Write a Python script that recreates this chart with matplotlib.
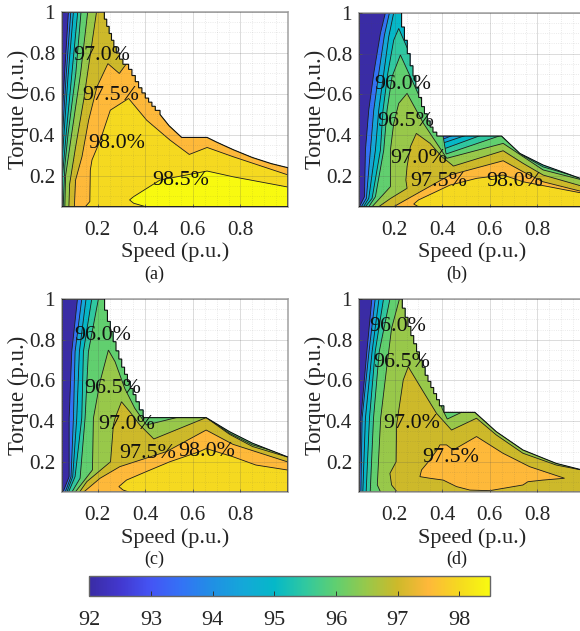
"""Efficiency maps over speed and torque for four cases, shared colour bar."""
import numpy as np
import matplotlib

matplotlib.use("Agg")
import matplotlib.pyplot as plt
from matplotlib.cm import ScalarMappable
from matplotlib.colors import LinearSegmentedColormap, Normalize
from matplotlib.patches import Polygon
from matplotlib.ticker import MultipleLocator

plt.rcParams["font.family"] = ["Liberation Serif", "DejaVu Serif"]

# Colour bar stops, efficiency in percent.
cbar_values = [92, 92.5, 93, 93.5, 94, 94.5, 95, 95.5, 96, 96.5, 97, 97.5, 98, 98.5]
cbar_colors = ["#3a2ca5", "#4238cf", "#4455f5", "#3373f5", "#2090e4", "#14a8d8", "#05b8c8",
               "#30c8a0", "#60cf70", "#98c84a", "#cdb92a", "#feb83a", "#f5d920", "#f8fa10"]
cbar_ticks = [92, 93, 94, 95, 96, 97, 98]

# Torque limit: a jagged stretch (speed, torque) and then a smooth stretch.
a_stairs = [(.218, 1), (.228, .965), (.238, .93), (.248, .895), (.258, .862), (.268, .83),
            (.278, .80), (.292, .77), (.306, .745), (.33, .72), (.344, .69), (.358, .66),
            (.372, .63), (.386, .605), (.40, .58), (.414, .56), (.428, .54), (.442, .52)]
a_edge = [(.462, .50), (.50, .445), (.553, .388), (.66, .388), (.70, .365), (.77, .328),
          (.85, .29), (.93, .26), (1.0, .24)]
b_stairs = [(.217, 1), (.229, .93), (.241, .865), (.253, .80), (.265, .74), (.277, .69),
            (.289, .635), (.301, .585), (.313, .54), (.325, .505), (.337, .47), (.349, .44),
            (.361, .415)]
b_edge = [(.377, .396), (.649, .396), (.726, .311), (.824, .254), (.977, .19), (1.0, .183)]
c_stairs = [(.217, 1), (.229, .945), (.241, .89), (.253, .84), (.265, .79), (.277, .745),
            (.289, .705), (.301, .665), (.313, .63), (.325, .595), (.337, .56), (.349, .53),
            (.361, .495), (.375, .455)]
c_edge = [(.391, .417), (.656, .417), (.754, .348), (.851, .291), (.996, .225), (1.0, .224)]
d_stairs = [(.22, 1), (.232, .955), (.244, .91), (.256, .865), (.268, .82), (.28, .78),
            (.292, .74), (.304, .70), (.316, .665), (.328, .625), (.34, .595), (.352, .565),
            (.364, .535), (.376, .505), (.388, .475)]
d_edge = [(.407, .443), (.537, .443), (.627, .348), (.739, .258), (.879, .192), (.977, .163),
          (1.0, .158)]

# Iso-efficiency lines: (level, [(speed, torque), ...]).
a_lines = [
    (93.5, [(.052, .52), (.062, .72), (.077, 1)]),
    (94.5, [(.052, .40), (.068, .70), (.087, 1)]),
    (95.0, [(.052, .30), (.075, .68), (.098, 1)]),
    (95.5, [(.052, .20), (.067, .40), (.09, .68), (.116, 1)]),
    (96.0, [(.055, .05), (.062, .25), (.075, .40), (.108, .70), (.13, 1)]),
    (96.5, [(.062, .05), (.065, .2), (.09, .40), (.128, .7), (.158, 1)]),
    (97.0, [(.079, .05), (.082, .16), (.107, .34), (.141, .57), (.195, 1)]),
    (97.5, [(.102, .05), (.107, .18), (.134, .294), (.162, .472), (.197, .635), (.243, .748),
            (.291, .70), (.316, .74), (.35, .80)]),
    (98.0, [(.148, .05), (.167, .075), (.169, .229), (.176, .278), (.211, .375), (.253, .521),
            (.33, .578), (.406, .472), (.504, .375), (.585, .305), (.66, .339), (.769, .294),
            (1.0, .205), (1.1, .18)]),
    (98.5, [(.334, .083), (.351, .099), (.462, .18), (.574, .205), (.66, .224), (.769, .196),
            (1.05, .135), (1.05, .05), (.402, .05), (.351, .067), (.334, .083)]),
]
b_lines = [
    (93.5, [(.052, .05), (.073, .099), (.077, .327), (.091, .523), (.112, .703), (.14, .899),
            (.161, 1)]),
    (94.5, [(.06, .05), (.081, .091), (.098, .327), (.112, .523), (.133, .703), (.157, .891),
            (.178, 1), (.25, 1), (.375, .44), (.387, .373), (.447, .401), (1.1, .401)]),
    (95.0, [(.069, .05), (.091, .091), (.119, .327), (.133, .523), (.154, .703), (.175, .882),
            (.196, 1), (.25, 1), (.38, .44), (.391, .357), (.503, .401), (1.1, .401)]),
    (95.5, [(.077, .05), (.105, .091), (.14, .327), (.151, .523), (.171, .703), (.196, .866),
            (.217, .923), (.30, .70), (.395, .42), (.402, .331), (.566, .401), (1.1, .401)]),
    (96.0, [(.091, .05), (.119, .099), (.154, .327), (.168, .523), (.189, .687), (.224, .793),
            (.30, .60), (.40, .42), (.416, .308), (.649, .40), (.74, .30), (.824, .245),
            (1.019, .178)]),
    (96.5, [(.105, .05), (.182, .148), (.182, .327), (.196, .458), (.217, .556), (.252, .605),
            (.321, .458), (.377, .36), (.419, .287), (.656, .36), (.74, .295), (.824, .23),
            (1.019, .172)]),
    (97.0, [(.133, .05), (.182, .09), (.252, .14), (.247, .181), (.252, .246), (.266, .344),
            (.291, .409), (.349, .36), (.398, .295), (.447, .249), (.656, .324), (.74, .262),
            (.824, .205), (1.019, .14)]),
    (97.5, [(.196, .05), (.321, .132), (.433, .205), (.656, .275), (.74, .221), (.824, .172),
            (1.019, .115)]),
    (98.0, [(.28, .063), (.30, .083), (.433, .156), (.545, .189), (.656, .205), (.74, .172),
            (.977, .119), (1.05, .115), (1.05, .05), (.30, .05), (.28, .063)]),
]
c_lines = [
    (93.5, [(.054, .05), (.08, .127), (.08, .414), (.091, .741), (.115, 1)]),
    (94.5, [(.063, .05), (.088, .127), (.098, .414), (.105, .741), (.133, 1)]),
    (95.0, [(.07, .05), (.095, .127), (.112, .414), (.123, .741), (.151, 1)]),
    (95.5, [(.077, .05), (.105, .127), (.133, .414), (.14, .741), (.175, 1)]),
    (96.0, [(.091, .05), (.126, .119), (.147, .414), (.161, .741), (.203, 1)]),
    (96.5, [(.105, .05), (.178, .16), (.182, .414), (.21, .594), (.245, .749), (.273, .692),
            (.314, .56), (.356, .463), (.405, .381), (.531, .417), (.656, .42), (.754, .34),
            (.851, .283), (1.05, .215)]),
    (97.0, [(.123, .05), (.154, .102), (.254, .2), (.266, .381), (.273, .414), (.30, .495),
            (.335, .446), (.377, .381), (.436, .312), (.656, .417), (.754, .335), (.851, .275),
            (1.05, .205)]),
    (97.5, [(.14, .05), (.21, .119), (.293, .176), (.489, .25), (.656, .356), (.768, .286),
            (1.05, .18)]),
    (98.0, [(.289, .078), (.321, .11), (.405, .152), (.503, .2), (.628, .25), (.656, .265),
            (.768, .225), (.865, .184), (1.05, .15), (1.05, .05), (.335, .05), (.307, .061),
            (.289, .078)]),
]
d_lines = [
    (93.5, [(.052, .102), (.058, .414), (.083, .741), (.104, 1)]),
    (94.5, [(.058, .05), (.063, .414), (.092, .741), (.118, 1)]),
    (95.0, [(.066, .05), (.077, .414), (.105, .741), (.134, 1)]),
    (95.5, [(.08, .05), (.094, .414), (.118, .741), (.153, 1)]),
    (96.0, [(.097, .05), (.111, .414), (.135, .741), (.18, 1)]),
    (96.5, [(.141, .05), (.127, .086), (.141, .414), (.166, .659), (.187, .856), (.22, 1),
            (.27, 1), (.40, .46), (.421, .41), (.481, .443), (1.1, .443)]),
    (97.0, [(.211, .05), (.187, .086), (.18, .143), (.206, .2), (.208, .381), (.236, .602),
            (.257, .667), (.32, .545), (.376, .438), (.439, .356), (.544, .414), (.627, .332),
            (.739, .242), (.879, .184), (1.018, .152)]),
    (97.5, [(.39, .283), (.418, .283), (.446, .258), (.544, .324), (.655, .242), (.767, .176),
            (.914, .119), (.823, .11), (.76, .102), (.739, .086), (.599, .058), (.516, .061),
            (.46, .078), (.404, .11), (.348, .119), (.306, .127), (.313, .16), (.348, .209),
            (.383, .266), (.39, .283)]),
]

# In-plot labels: (text, speed, torque).
a_labels = [("97.0%", .218, .789), ("97.5%", .256, .594), ("98.0%", .281, .359), ("98.5%", .548, .18)]
b_labels = [("96.0%", .233, .646), ("96.5%", .247, .466), ("97.0%", .303, .287), ("97.5%", .387, .172),
            ("98.0%", .705, .172)]
c_labels = [("96.0%", .221, .823), ("96.5%", .261, .558), ("97.0%", .323, .381), ("97.5%", .412, .242),
            ("98.0%", .659, .25)]
d_labels = [("96.0%", .213, .864), ("96.5%", .229, .689), ("97.0%", .271, .389), ("97.5%", .436, .222)]

W, H = 580, 631
cmap = LinearSegmentedColormap.from_list(
    "eff", [((v - 92) / 6.5, c) for v, c in zip(cbar_values, cbar_colors)], N=512)
norm = Normalize(92, 98.5)


def limit_outline(stairs, edge):
    # horizontal run at each stair's torque, then a drop to the next one
    pts = [(.05, .05), (.05, 1)]
    next_speed = [p[0] for p in stairs[1:]] + [edge[0][0]]
    for (s, t), s2 in zip(stairs, next_speed):
        pts += [(s, t), (s2, t)]
    pts += edge + [(edge[-1][0], .05)]
    return pts


def draw_panel(rect, stairs, edge, lines, labels, name, name_x):
    left, top, right, bottom = rect
    ax = fig.add_axes([left / W, 1 - bottom / H, (right - left) / W, (bottom - top) / H])
    ax.set_xlim(.05, 1)
    ax.set_ylim(.05, 1)

    outline = limit_outline(stairs, edge)
    limit = Polygon(outline, closed=True, facecolor=cmap(norm(92)), edgecolor="none", zorder=1)
    ax.add_patch(limit)
    for level, pts in lines:
        pts = list(pts)
        if pts[0] != pts[-1]:
            # open line: everything on its right-hand side is above the level
            pts += [(1.1, pts[-1][1]), (1.1, 0), (pts[0][0], 0)]
        patch = Polygon(pts, closed=True, facecolor=cmap(norm(level)), edgecolor="#1c1c1c",
                        lw=0.6, zorder=2)
        ax.add_patch(patch)
        patch.set_clip_path(limit)
    ax.add_patch(Polygon(outline, closed=True, fill=False, edgecolor="#111111", lw=0.8, zorder=3))

    ax.xaxis.set_minor_locator(MultipleLocator(.05))
    ax.yaxis.set_minor_locator(MultipleLocator(.05))
    ax.set_xticks([.2, .4, .6, .8])
    ax.set_yticks([.2, .4, .6, .8, 1])
    ax.set_yticklabels(["0.2", "0.4", "0.6", "0.8", "1"])
    ax.set_axisbelow(False)
    ax.grid(True, which="major", color="#505050", lw=0.7, alpha=0.2, zorder=4)
    ax.grid(True, which="minor", color="#505050", lw=0.6, ls=":", alpha=0.16, zorder=4)
    ax.tick_params(which="major", direction="in", length=2.5, width=0.6, color="#555555",
                   labelsize=15.3, labelcolor="#262626", pad=5)
    ax.tick_params(which="minor", length=0)
    ax.tick_params(axis="x", pad=10)
    for sp in ax.spines.values():
        sp.set_color("#a8a8a8")
        sp.set_linewidth(1.2)

    ax.set_xlabel("Speed (p.u.)", fontsize=16, color="#262626", labelpad=2)
    ax.set_ylabel("Torque (p.u.)", fontsize=16.4, color="#262626", labelpad=0)
    ax.text(name_x, -.348, name, transform=ax.transAxes, ha="center", va="center",
            fontsize=13, color="#1c1c1c")
    for text, s, t in labels:
        ax.text(s, t, text, ha="center", va="center", fontsize=15.8, color="#111111",
                zorder=6, clip_on=False)
    return ax


fig = plt.figure(figsize=(W / 100, H / 100), dpi=100)
draw_panel((62, 12, 288, 206.7), a_stairs, a_edge, a_lines, a_labels, "(a)", .407)
draw_panel((359, 12.7, 585, 206.7), b_stairs, b_edge, b_lines, b_labels, "(b)", .434)
draw_panel((62, 299, 288, 492.3), c_stairs, c_edge, c_lines, c_labels, "(c)", .407)
draw_panel((359, 299, 585, 492.3), d_stairs, d_edge, d_lines, d_labels, "(d)", .434)

cax = fig.add_axes([89.3 / W, 1 - 596 / H, (490 - 89.3) / W, 20 / H])
cb = fig.colorbar(ScalarMappable(norm=norm, cmap=cmap), cax=cax, orientation="horizontal",
                  ticks=cbar_ticks)
cb.ax.tick_params(direction="in", length=3.5, width=0.7, color="#333333", labelsize=16,
                  labelcolor="#262626", pad=11)
cb.outline.set_edgecolor("#666666")
cb.outline.set_linewidth(1.0)

fig.savefig("out.png", dpi=100)
